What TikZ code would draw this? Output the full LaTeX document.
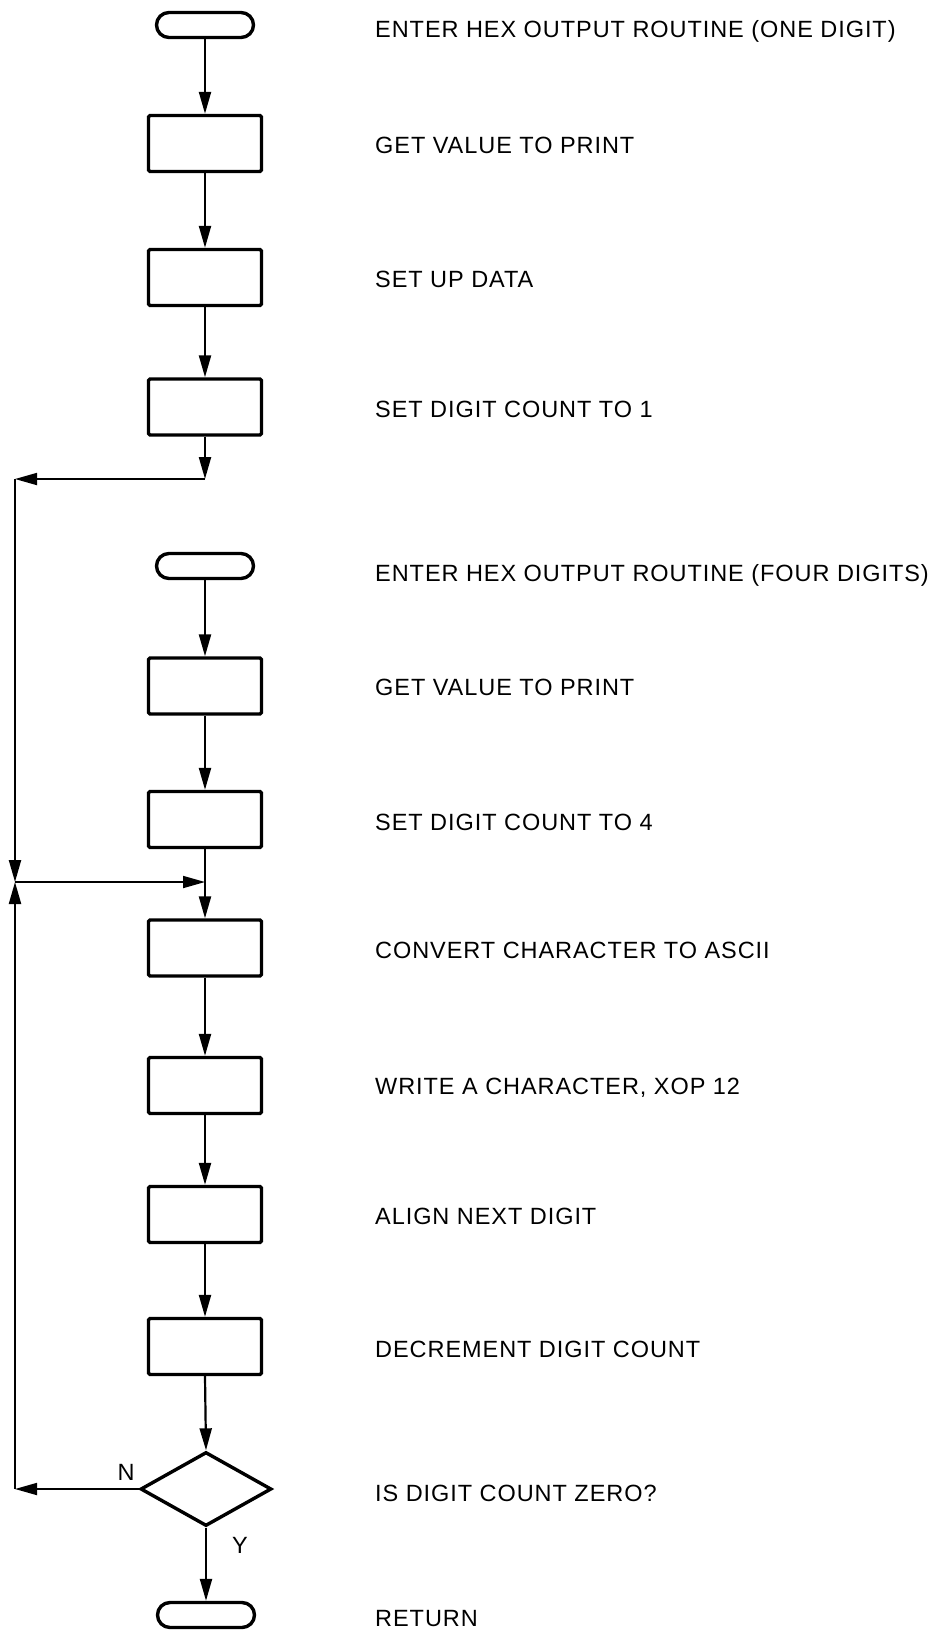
\documentclass[tikz,border=0pt]{standalone}
\usepackage{fontspec}
\setmainfont{Liberation Sans}
\newfontfamily\lblfont[LetterSpace=4]{Liberation Sans}
\usetikzlibrary{arrows.meta,shapes.geometric}
\begin{document}
\begin{tikzpicture}[x=1pt,y=-1pt,
  procbox/.style={draw,line width=3.4pt,minimum width=113pt,minimum height=56pt,inner sep=0pt,rounded corners=1.5pt},
  termbox/.style={draw,line width=3.4pt,minimum width=97pt,minimum height=25pt,rounded corners=12.5pt,inner sep=0pt},
  decbox/.style={diamond,draw,line width=3.4pt,minimum width=131pt,minimum height=74pt,inner sep=0pt},
  lbl/.style={anchor=base west,inner sep=0pt,font=\lblfont\fontsize{23.5}{28}\selectfont},
  yn/.style={inner sep=0pt,font=\lblfont\fontsize{23.5}{28}\selectfont},
  conn/.style={line width=2.2pt,-{Triangle[length=22pt,width=12pt]}},
  hconn/.style={line width=1.8pt,-{Triangle[length=22pt,width=12pt]}}]
\useasboundingbox (0,0) rectangle (943,1631);

% shapes
\node[termbox] (t1) at (205,25) {};
\node[procbox] (b1) at (205,143.5) {};
\node[procbox] (b2) at (205,277.5) {};
\node[procbox] (b3) at (205,407) {};
\node[termbox] (t2) at (205,566) {};
\node[procbox] (b5) at (205,686) {};
\node[procbox] (b6) at (205,819.5) {};
\node[procbox] (b7) at (205,948) {};
\node[procbox] (b8) at (205,1085.5) {};
\node[procbox] (b9) at (205,1214.5) {};
\node[procbox] (b10) at (205,1346.5) {};
\node[decbox] (d) at (206,1489) {};
\node[termbox] (t3) at (206,1615) {};

% junction coordinates
\coordinate (c1) at (205,479);
\coordinate (c2) at (15,479);
\coordinate (c3) at (15,882);
\coordinate (c4) at (205,882);
\coordinate (c5) at (15,1489);

% connectors
\draw[conn] (t1) -- (b1);
\draw[conn] (b1) -- (b2);
\draw[conn] (b2) -- (b3);
\draw[conn] (b3.south) -- (c1);
\draw[hconn] (c1) -- (c2);
\draw[conn] (c2) -- (c3);
\draw[conn] (t2) -- (b5);
\draw[conn] (b5) -- (b6);
\draw[conn] (b6) -- (b7);
\draw[hconn] (c3) -- (c4);
\draw[conn] (b7) -- (b8);
\draw[conn] (b8) -- (b9);
\draw[conn] (b9) -- (b10);
\draw[conn] (b10.south) -- (d.north);
\draw[hconn] (d.west) -- (c5);
\draw[conn] (c5) -- (c3);
\draw[conn] (d.south) -- (t3.north);

\node[yn] (ln) at (126,1472) {N};
\node[yn] (ly) at (240,1545) {Y};

% texts
\node[lbl] (l1) at (375,37.5) {ENTER HEX OUTPUT ROUTINE (ONE DIGIT)};
\node[lbl] (l2) at (375,153.5) {GET VALUE TO PRINT};
\node[lbl] (l3) at (375,287.5) {SET UP DATA};
\node[lbl] (l4) at (375,417) {SET DIGIT COUNT TO 1};
\node[lbl] (l5) at (375,581) {ENTER HEX OUTPUT ROUTINE (FOUR DIGITS)};
\node[lbl] (l6) at (375,695) {GET VALUE TO PRINT};
\node[lbl] (l7) at (375,830.5) {SET DIGIT COUNT TO 4};
\node[lbl] (l8) at (375,958) {CONVERT CHARACTER TO ASCII};
\node[lbl] (l9) at (375,1094) {WRITE A CHARACTER, XOP 12};
\node[lbl] (l10) at (375,1224.5) {ALIGN NEXT DIGIT};
\node[lbl] (l11) at (375,1357) {DECREMENT DIGIT COUNT};
\node[lbl] (l12) at (375,1501) {IS DIGIT COUNT ZERO?};
\node[lbl] (l13) at (375,1626) {RETURN};
\end{tikzpicture}
\end{document}
